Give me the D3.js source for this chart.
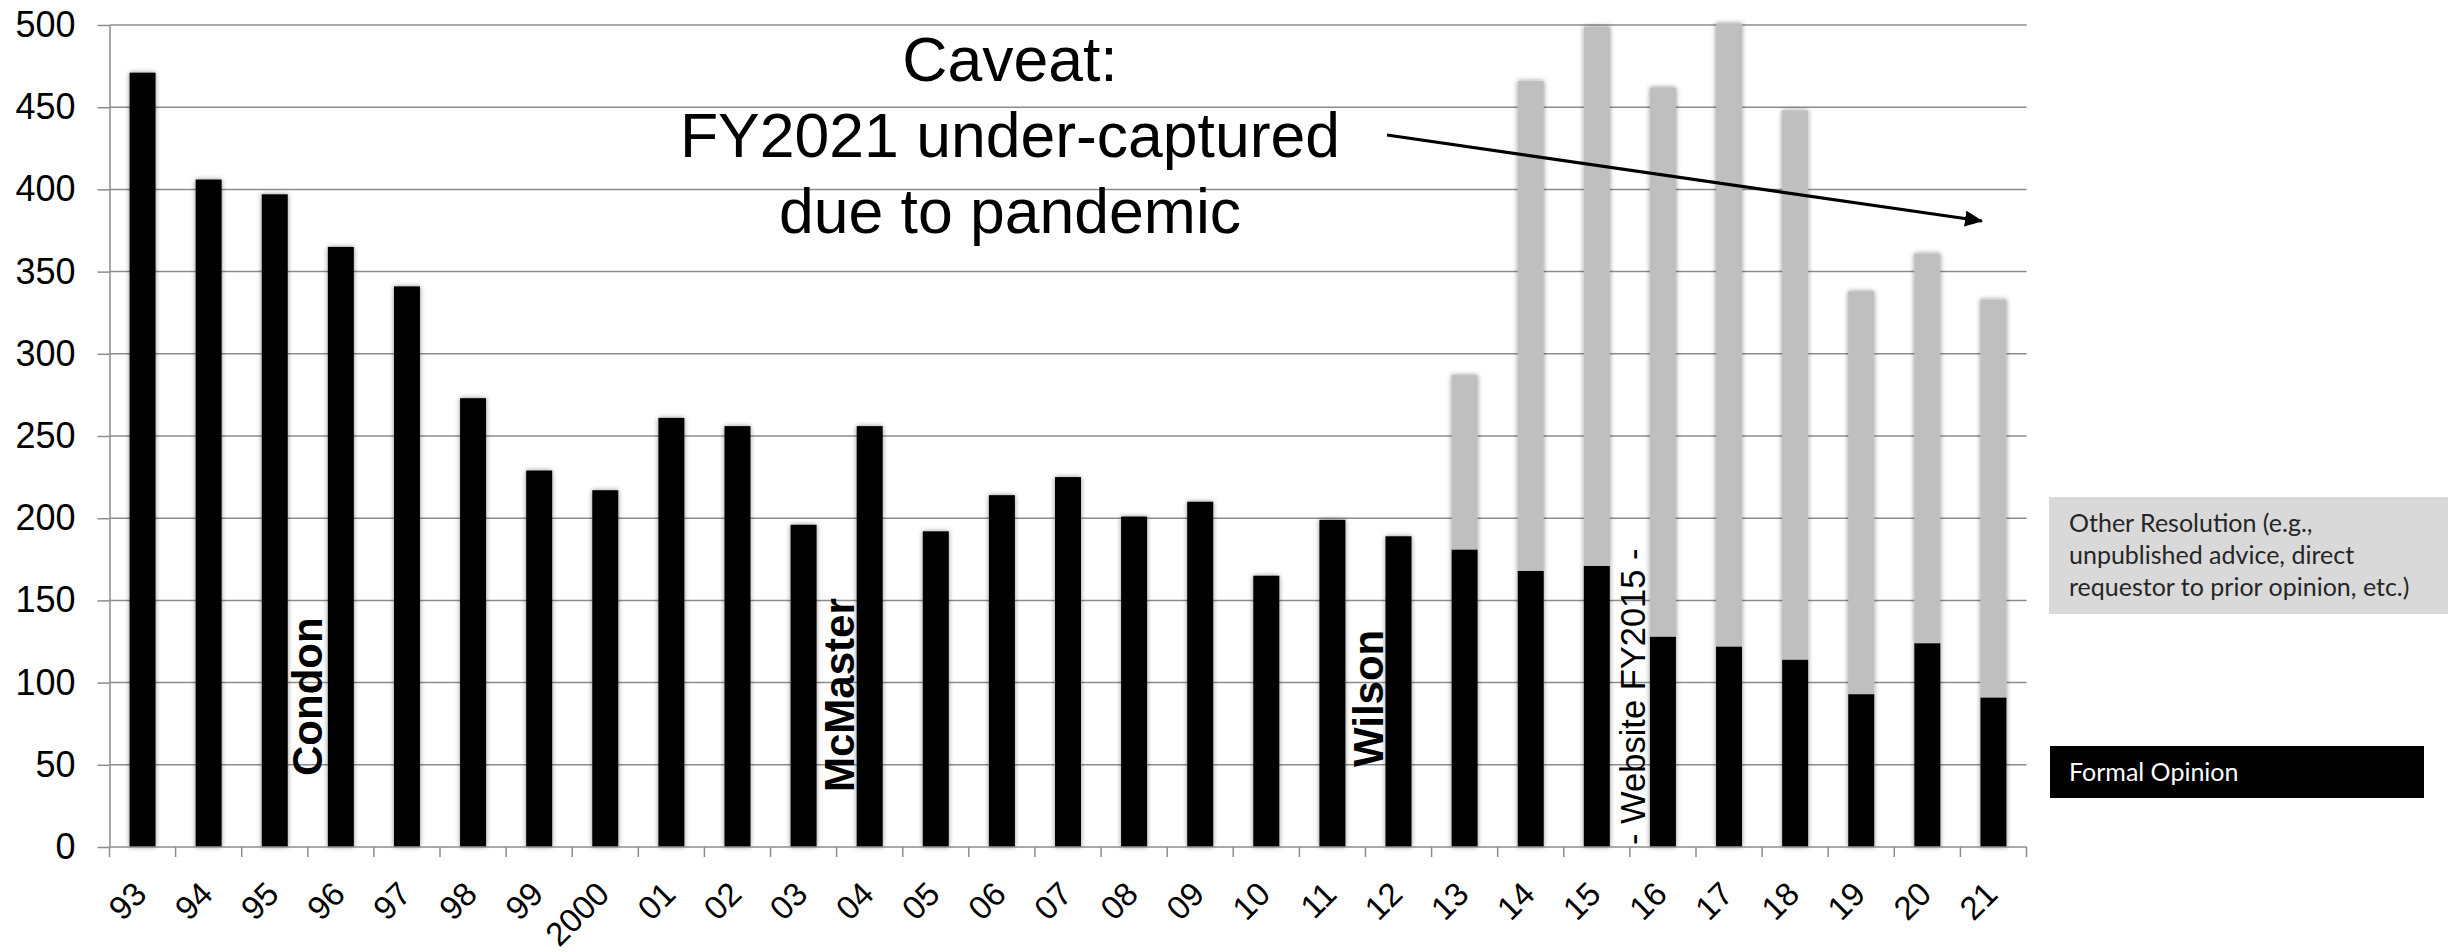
<!DOCTYPE html>
<html>
<head>
<meta charset="utf-8">
<script src="https://cdn.jsdelivr.net/npm/d3@7"></script>
<style>
  html, body { margin: 0; padding: 0; background: #fff; }
  svg { display: block; }
</style>
</head>
<body>
<svg id="chart" width="2448" height="952"></svg>
<script>
// ---- data ----
const categories = ["93","94","95","96","97","98","99","2000","01","02","03","04","05","06","07","08","09","10","11","12","13","14","15","16","17","18","19","20","21"];
const formalOpinion = [471,406,397,365,341,273,229,217,261,256,196,256,192,214,225,201,210,165,199,189,181,168,171,128,122,114,93,124,91];
const otherResolution = [0,0,0,0,0,0,0,0,0,0,0,0,0,0,0,0,0,0,0,0,106,298,328,334,379,334,245,237,242];
const yTicks = [0,50,100,150,200,250,300,350,400,450,500];
const caveatLines = ["Caveat:", "FY2021 under-captured", "due to pandemic"];
const eraLabels = ["Condon", "McMaster", "Wilson"];
const websiteLabel = "- Website FY2015 -";
const legendOther = ["Other Resolution (e.g.,", "unpublished advice, direct", "requestor to prior opinion, etc.)"];
const legendFormal = "Formal Opinion";

// ---- layout ----
const svg = d3.select("#chart");
const mLeft = 109.5, mRight = 2026.5, mTop = 25, mBottom = 847;
const FONT = "'Liberation Sans', Arial, Helvetica, sans-serif";
const GRID = "#8c8c8c";

const x = d3.scaleBand().domain(categories).range([mLeft, mRight]).paddingInner(0.607).paddingOuter(0.3035);
const y = d3.scaleLinear().domain([0, 500]).range([mBottom, mTop]);

const rows = categories.map((c, i) => ({cat: c, formal: formalOpinion[i], other: otherResolution[i]}));
const stack = d3.stack().keys(["formal", "other"])(rows);
const colors = {formal: "#000000", other: "#bfbfbf"};

const defs = svg.append("defs");
const f = defs.append("filter").attr("id", "shadow").attr("x", "-50%").attr("y", "-10%").attr("width", "200%").attr("height", "120%");
f.append("feDropShadow").attr("dx", 0).attr("dy", 0).attr("stdDeviation", 2.5)
  .attr("flood-color", "#000").attr("flood-opacity", 0.45);
defs.append("marker").attr("id", "arrow").attr("markerUnits", "userSpaceOnUse")
  .attr("viewBox", "0 0 18 16").attr("refX", 17).attr("refY", 8)
  .attr("markerWidth", 18).attr("markerHeight", 16).attr("orient", "auto")
  .append("path").attr("d", "M0,0 L18,8 L0,16 Z").attr("fill", "#000");

// y axis + gridlines
const yAxis = d3.axisLeft(y).tickValues(yTicks).tickSize(12).tickSizeOuter(0).tickPadding(22);
const gy = svg.append("g").attr("transform", `translate(${mLeft},0)`).call(yAxis);
gy.select(".domain").attr("stroke", GRID).attr("stroke-width", 1.5);
gy.selectAll(".tick line").attr("stroke", GRID).attr("stroke-width", 1.5);
gy.selectAll(".tick text").attr("font-family", FONT).attr("font-size", 36).attr("fill", "#000");

svg.append("g").selectAll("line").data(yTicks.filter(d => d > 0)).join("line")
  .attr("x1", mLeft).attr("x2", mRight)
  .attr("y1", d => y(d)).attr("y2", d => y(d))
  .attr("stroke", GRID).attr("stroke-width", 1.5);

// bars
svg.append("g").selectAll("g").data(stack).join("g")
  .attr("fill", d => colors[d.key])
  .selectAll("rect").data(d => d.filter(s => s[1] > s[0])).join("rect")
  .attr("x", d => x(d.data.cat))
  .attr("width", x.bandwidth())
  .attr("y", d => y(d[1]))
  .attr("height", d => y(d[0]) - y(d[1]))
  .attr("filter", "url(#shadow)");

// x axis
const step = x.step();
const boundaries = d3.range(categories.length + 1).map(i => mLeft + i * step);
svg.append("line").attr("x1", mLeft).attr("x2", mRight).attr("y1", mBottom).attr("y2", mBottom)
  .attr("stroke", GRID).attr("stroke-width", 1.5);
svg.append("g").selectAll("line").data(boundaries).join("line")
  .attr("x1", d => d).attr("x2", d => d).attr("y1", mBottom).attr("y2", mBottom + 10)
  .attr("stroke", GRID).attr("stroke-width", 1.5);
svg.append("g").selectAll("text").data(categories).join("text")
  .attr("transform", d => `translate(${x(d) + x.bandwidth() / 2 + 6},${mBottom + 49}) rotate(-45)`)
  .attr("text-anchor", "end")
  .attr("font-family", FONT).attr("font-size", 33).attr("fill", "#000")
  .text(d => d);

// era labels (rotated, bold)
const eraPos = [[322, 776], [854, 792], [1383, 767]];
svg.append("g").selectAll("text").data(eraLabels).join("text")
  .attr("transform", (d, i) => `translate(${eraPos[i][0]},${eraPos[i][1]}) rotate(-90)`)
  .attr("font-family", FONT).attr("font-weight", "bold").attr("font-size", 42).attr("fill", "#000")
  .text(d => d);

svg.append("text")
  .attr("transform", `translate(1645,845) rotate(-90)`)
  .attr("font-family", FONT).attr("font-size", 34.5).attr("fill", "#000")
  .text(websiteLabel);

// caveat
svg.append("g").selectAll("text").data(caveatLines).join("text")
  .attr("x", 1010).attr("y", (d, i) => 81 + i * 76)
  .attr("text-anchor", "middle")
  .attr("font-family", FONT).attr("font-size", 62.5).attr("fill", "#000")
  .text(d => d);

svg.append("line").attr("x1", 1387).attr("y1", 135).attr("x2", 1982).attr("y2", 221)
  .attr("stroke", "#000").attr("stroke-width", 3.2).attr("marker-end", "url(#arrow)");

// legend
const LFONT = "Lato, 'Open Sans', Calibri, sans-serif";
svg.append("rect").attr("x", 2049).attr("y", 497).attr("width", 399).attr("height", 117).attr("fill", "#d9d9d9");
svg.append("g").selectAll("text").data(legendOther).join("text")
  .attr("x", 2069).attr("y", (d, i) => 532 + i * 32)
  .attr("font-family", LFONT).attr("font-size", 25).attr("fill", "#262626")
  .text(d => d);
svg.append("rect").attr("x", 2050).attr("y", 746).attr("width", 374).attr("height", 52).attr("fill", "#000");
svg.append("text").attr("x", 2069).attr("y", 781)
  .attr("font-family", LFONT).attr("font-size", 25).attr("fill", "#fff")
  .text(legendFormal);
</script>
</body>
</html>
